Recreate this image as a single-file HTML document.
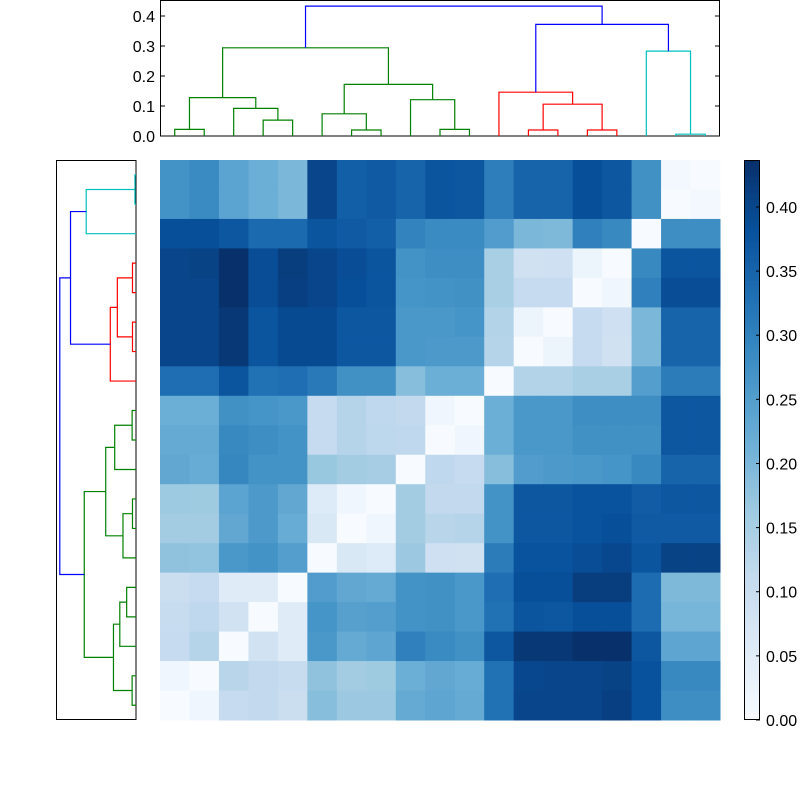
<!DOCTYPE html>
<html><head><meta charset="utf-8"><style>
body{margin:0;background:#fff;}
svg{display:block;font-family:"Liberation Sans",sans-serif;}
</style></head><body>
<svg id="fig" width="800" height="800" xmlns="http://www.w3.org/2000/svg">
<rect width="800" height="800" fill="#fff"/>
<g id="heat"></g>
<g id="topd"></g>
<g id="leftd"></g>
<g id="cbar"></g>
</svg>
<script>
const matrix = [
[0.271,0.284,0.24,0.218,0.201,0.402,0.358,0.367,0.35,0.376,0.371,0.306,0.35,0.35,0.385,0.371,0.275,0.009,0],
[0.271,0.284,0.24,0.218,0.201,0.402,0.358,0.367,0.35,0.376,0.371,0.306,0.35,0.35,0.385,0.371,0.275,0,0.009],
[0.385,0.385,0.371,0.341,0.341,0.376,0.367,0.358,0.297,0.284,0.284,0.253,0.201,0.197,0.302,0.288,0,0.28,0.28],
[0.402,0.406,0.437,0.389,0.415,0.402,0.389,0.376,0.271,0.28,0.28,0.149,0.087,0.092,0.022,0,0.288,0.376,0.376],
[0.402,0.402,0.437,0.389,0.411,0.402,0.385,0.376,0.267,0.271,0.275,0.149,0.109,0.109,0,0.017,0.302,0.389,0.389],
[0.402,0.402,0.424,0.376,0.393,0.393,0.371,0.371,0.262,0.262,0.267,0.135,0.022,0,0.109,0.092,0.201,0.35,0.35],
[0.402,0.402,0.424,0.376,0.393,0.393,0.371,0.371,0.262,0.258,0.258,0.131,0,0.022,0.109,0.087,0.201,0.35,0.35],
[0.332,0.332,0.376,0.328,0.332,0.315,0.275,0.275,0.188,0.218,0.218,0,0.135,0.135,0.149,0.149,0.249,0.31,0.31],
[0.218,0.218,0.275,0.267,0.262,0.109,0.131,0.118,0.114,0.017,0,0.218,0.262,0.262,0.28,0.28,0.28,0.371,0.371],
[0.227,0.227,0.288,0.28,0.271,0.109,0.131,0.122,0.118,0,0.017,0.218,0.262,0.262,0.275,0.275,0.275,0.371,0.371],
[0.232,0.223,0.293,0.271,0.271,0.17,0.157,0.153,0,0.118,0.109,0.188,0.253,0.258,0.262,0.267,0.288,0.35,0.35],
[0.164,0.162,0.24,0.258,0.232,0.057,0.017,0,0.157,0.114,0.114,0.271,0.371,0.371,0.38,0.38,0.363,0.371,0.371],
[0.157,0.157,0.232,0.258,0.223,0.066,0,0.017,0.157,0.127,0.131,0.271,0.371,0.371,0.38,0.385,0.367,0.367,0.367],
[0.179,0.175,0.262,0.271,0.249,0,0.066,0.057,0.166,0.092,0.087,0.31,0.38,0.38,0.389,0.398,0.376,0.406,0.406],
[0.1,0.109,0.052,0.052,0,0.253,0.232,0.227,0.271,0.275,0.262,0.332,0.385,0.385,0.415,0.415,0.336,0.197,0.197],
[0.105,0.118,0.083,0,0.052,0.267,0.245,0.249,0.271,0.275,0.262,0.328,0.376,0.371,0.385,0.385,0.336,0.205,0.205],
[0.109,0.131,0,0.083,0.052,0.262,0.227,0.236,0.302,0.284,0.275,0.371,0.424,0.424,0.437,0.437,0.371,0.236,0.236],
[0.017,0,0.127,0.114,0.105,0.179,0.157,0.162,0.218,0.232,0.223,0.328,0.398,0.402,0.402,0.406,0.382,0.288,0.288],
[0,0.017,0.109,0.114,0.1,0.188,0.166,0.166,0.227,0.236,0.227,0.328,0.402,0.402,0.402,0.411,0.382,0.28,0.28]
];
const linkLeft   = [0,3,2,19,6,5,9,8,24,22,12,14,29,11,17,16,32,28];
const linkRight  = [1,4,20,21,7,23,10,25,26,27,13,15,30,31,18,33,34,35];
const linkHeight = [0.022,0.053,0.092,0.128,0.020,0.074,0.022,0.121,0.172,0.294,0.020,0.020,0.106,0.146,0.006,0.283,0.372,0.433];
const linkColor  = ['g','g','g','g','g','g','g','g','g','g','r','r','r','r','c','c','b','b'];
const dendroTicks = [0,0.1,0.2,0.3,0.4];
const dendroTickLabels = ['0.0','0.1','0.2','0.3','0.4'];
const cbarTicks = [0,0.05,0.1,0.15,0.2,0.25,0.3,0.35,0.4];
const cbarTickLabels = ['0.00','0.05','0.10','0.15','0.20','0.25','0.30','0.35','0.40'];

const NS='http://www.w3.org/2000/svg';
const N=matrix.length, VMAX=0.4366;
const colors={g:'#008000',r:'#ff0000',c:'#00bfbf',b:'#0000ff'};
const stops=[[247,251,255],[222,235,247],[198,219,239],[158,202,225],[107,174,214],[66,146,198],[33,113,181],[8,81,156],[8,48,107]];
function cmap(v){let t=Math.max(0,Math.min(1,v/VMAX))*8;let i=Math.min(7,Math.floor(t));let f=t-i;
 const a=stops[i],b=stops[i+1];return 'rgb('+a.map((x,k)=>Math.round(x+(b[k]-x)*f)).join(',')+')';}
function mk(tag,attrs,parent){const e=document.createElementNS(NS,tag);for(const k in attrs)e.setAttribute(k,attrs[k]);parent.appendChild(e);return e;}

// heatmap
const HX=160,HY=160,HS=560,cs=HS/N;
const xCell=c=>HX+c*cs, yCell=r=>HY+r*cs;
const heat=document.getElementById('heat');
for(let r=0;r<N;r++)for(let c=0;c<N;c++){
 const e=mk('rect',{x:xCell(c),y:yCell(r),width:cs+0.5,height:cs+0.5,fill:cmap(matrix[r][c])},heat);
 
 
}

// dendrograms
const topLeafX=p=>HX+cs*(p+0.5);
const topY=h=>136-h*300;
const leftX=h=>136-h*176;
const leftY=p=>HY+cs*(N-1-p+0.5);
function buildTree(){const pos={},hgt={};for(let i=0;i<N;i++){pos[i]=i;hgt[i]=0;}
 const segs=[];linkLeft.forEach((a,k)=>{const b=linkRight[k],h=linkHeight[k];
  segs.push({pa:pos[a],ha:hgt[a],pb:pos[b],hb:hgt[b],h:h,col:colors[linkColor[k]]});
  pos[N+k]=(pos[a]+pos[b])/2;hgt[N+k]=h;});return segs;}
const segs=buildTree();
const topd=document.getElementById('topd');
mk('rect',{x:160.5,y:0.5,width:559,height:135.5,fill:'none',stroke:'#000','stroke-width':1},topd);
const leftd=document.getElementById('leftd');
mk('rect',{x:56.5,y:160.5,width:79.5,height:559,fill:'none',stroke:'#000','stroke-width':1},leftd);
segs.forEach(s=>{
 const xa=topLeafX(s.pa),xb=topLeafX(s.pb);
 const e=mk('path',{d:`M${xa},${topY(s.ha)}V${topY(s.h)}H${xb}V${topY(s.hb)}`,fill:'none',stroke:s.col,'stroke-width':1.2},topd);
 
 
 const ya=leftY(s.pa),yb=leftY(s.pb);
 const f=mk('path',{d:`M${leftX(s.ha)},${ya}H${leftX(s.h)}V${yb}H${leftX(s.hb)}`,fill:'none',stroke:s.col,'stroke-width':1.2},leftd);
 
 
});
dendroTicks.forEach((v,i)=>{const y=topY(v);
 mk('line',{x1:160,x2:165,y1:y,y2:y,stroke:'#000'},topd);
 mk('line',{x1:715,x2:720,y1:y,y2:y,stroke:'#000'},topd);
 const t=mk('text',{x:155,y:y+6,'text-anchor':'end','font-size':16},topd);t.textContent=dendroTickLabels[i];
 
 
});

// colorbar
const cbar=document.getElementById('cbar');
const CX=744,CW=16,CT=160,CB=720;
const cy=v=>CB-(v/VMAX)*(CB-CT);
for(let i=0;i<200;i++){const v0=VMAX*i/200,v1=VMAX*(i+1)/200;
 mk('rect',{x:CX,y:cy(v1),width:CW,height:cy(v0)-cy(v1)+0.5,fill:cmap((v0+v1)/2)},cbar);}
mk('rect',{x:CX+0.5,y:CT+0.5,width:CW-1,height:CB-CT-1,fill:'none',stroke:'#000'},cbar);
cbarTicks.forEach((v,i)=>{const y=cy(v);
 mk('line',{x1:CX+CW-4,x2:CX+CW,y1:y,y2:y,stroke:'#000'},cbar);
 const t=mk('text',{x:766,y:y+6,'font-size':16},cbar);t.textContent=cbarTickLabels[i];
 
 
});
</script>
</body></html>
